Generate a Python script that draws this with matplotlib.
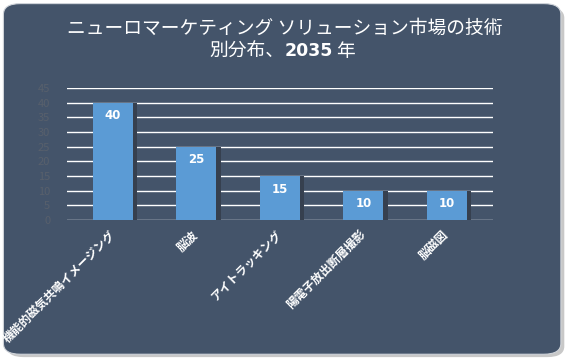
import matplotlib.pyplot as plt
from matplotlib.patches import FancyBboxPatch
import numpy as np

plt.rcParams['font.family'] = ['Noto Sans CJK JP', 'DejaVu Sans']

# data
categories = ['機能的磁気共鳴イメージング', '脳波', 'アイトラッキング', '陽電子放出断層撮影', '脳磁図']
shares = [40, 25, 15, 10, 10]
y_ticks = list(range(0, 50, 5))

bg = '#44546A'
bar_color = '#5B9BD5'

fig = plt.figure(figsize=(5.7, 3.6), dpi=100)
fig.patch.set_facecolor('white')

# rounded card with a soft shadow
shadow = FancyBboxPatch((0.012, 0.008), 0.978, 0.972, boxstyle='round,pad=0,rounding_size=0.03',
                        transform=fig.transFigure, facecolor='#c8c8c8', edgecolor='none', zorder=-2)
card = FancyBboxPatch((0.006, 0.016), 0.978, 0.974, boxstyle='round,pad=0,rounding_size=0.03',
                      transform=fig.transFigure, facecolor=bg, edgecolor='#d0d4da', linewidth=0.8, zorder=-1)
fig.patches.extend([shadow, card])

ax = fig.add_axes([0.1175, 0.389, 0.747, 0.367])
ax.set_zorder(2)
ax.set_facecolor('none')

x = np.arange(len(categories))
# bar shadow
ax.bar(x + 0.05, shares, width=0.48, color='#36404f', zorder=2)
bars = ax.bar(x, shares, width=0.48, color=bar_color, zorder=3)

for b, v in zip(bars, shares):
    ax.text(b.get_x() + b.get_width() / 2, v - 2.3, str(v), ha='center', va='top',
            color='white', fontsize=8.5, fontweight='bold', family='DejaVu Sans', zorder=4)

ax.set_ylim(0, 45)
ax.set_xlim(-0.55, 4.55)
ax.set_yticks(y_ticks)
ax.set_yticklabels([str(t) for t in y_ticks], color='#58606c', fontsize=8)
ax.yaxis.grid(True, color='white', linewidth=1.0, zorder=1)
ax.set_axisbelow(True)
ax.tick_params(axis='y', length=0, pad=12)
ax.tick_params(axis='x', length=0, pad=9)
ax.set_xticks(x)
ax.set_xticklabels(categories, rotation=45, ha='right', va='center', rotation_mode='anchor',
                   color='white', fontsize=8.5, fontweight='bold')
for s in ax.spines.values():
    s.set_visible(False)

fig.text(0.5, 0.922, 'ニューロマーケティング ソリューション市場の技術', ha='center', va='center',
         color='white', fontsize=13.5)
# second line: digits in bold as in the reference
t1 = fig.text(0.40, 0.858, '別分布、', ha='left', va='center', color='white', fontsize=13.5)
fig.canvas.draw()
r = fig.canvas.get_renderer()
w1 = t1.get_window_extent(r).width / fig.bbox.width
t2 = fig.text(0.40 + w1, 0.858, '2035', ha='left', va='center', color='white',
              fontsize=12.5, fontweight='bold', family='DejaVu Sans')
w2 = t2.get_window_extent(r).width / fig.bbox.width
t3 = fig.text(0.40 + w1 + w2 + 0.006, 0.858, '年', ha='left', va='center', color='white', fontsize=13.5)
w3 = t3.get_window_extent(r).width / fig.bbox.width
shift = 0.495 - (0.40 + (w1 + w2 + 0.006 + w3) / 2)
for t in (t1, t2, t3):
    px, py = t.get_position()
    t.set_position((px + shift, py))

fig.savefig('out.png', dpi=100, facecolor=fig.get_facecolor())
